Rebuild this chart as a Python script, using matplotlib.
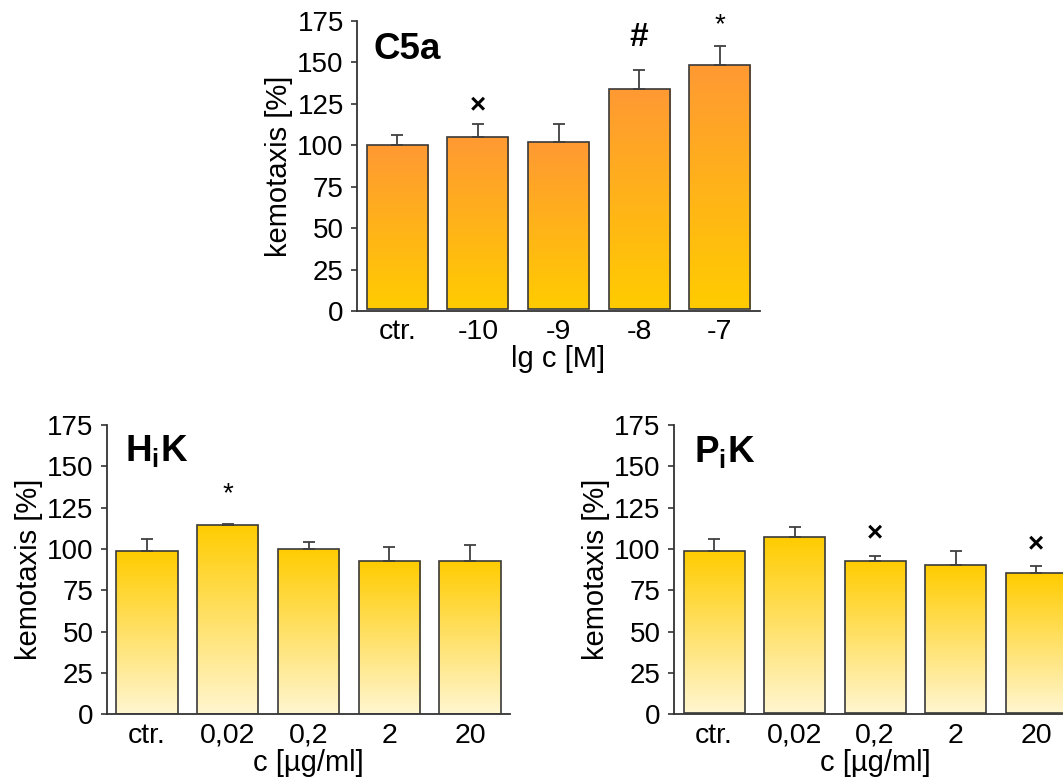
import numpy as np
import matplotlib
matplotlib.use("Agg")
import matplotlib.pyplot as plt
from matplotlib.colors import LinearSegmentedColormap

plt.rcParams['font.family'] = ['Liberation Sans', 'DejaVu Sans']
plt.rcParams['mathtext.fontset'] = 'custom'
plt.rcParams['mathtext.rm'] = 'Liberation Sans'
plt.rcParams['mathtext.bf'] = 'Liberation Sans:bold'

# ---------------- data ----------------
c5a_labels = ['ctr.', '-10', '-9', '-8', '-7']
c5a_mean = [100, 105, 102, 134, 148]
c5a_err = [6, 8, 11, 11, 12]
c5a_marks = ['', '×', '', '#', '*']
c5a_mark_y = [None, 124, None, 165, 172]

conc_labels = ['ctr.', '0,02', '0,2', '2', '20']

hik_mean = [98.5, 114.5, 100, 92.5, 93]
hik_err = [7.5, 0.8, 4.5, 9, 9.5]
hik_marks = ['', '*', '', '', '']
hik_mark_y = [None, 133, None, None, None]

pik_mean = [99, 107, 93, 90.5, 85.5]
pik_err = [7, 6, 2.5, 8, 4]
pik_marks = ['', '', '×', '', '×']
pik_mark_y = [None, None, 109.5, None, 102.8]

W, H = 1063, 778
fig = plt.figure(figsize=(W / 100, H / 100), dpi=100)

orange_cmap = LinearSegmentedColormap.from_list('og', ['#FFCC00', '#FF9933'])
yellow_cmap = LinearSegmentedColormap.from_list('yl', ['#FFF6D0', '#FFCC00'])

mark_style = {'*': dict(fontsize=20, fontweight='normal'),
              '#': dict(fontsize=24, fontweight='bold'),
              '×': dict(fontsize=20, fontweight='bold')}


def panel(rect_px, labels, mean, err, marks, mark_y, xlabel, cmap, base):
    l, r, t, b = rect_px
    ax = fig.add_axes([l / W, 1 - b / H, (r - l) / W, (b - t) / H])
    x = np.arange(len(labels))
    heights = [m - base for m in mean]
    bars = ax.bar(x, heights, bottom=base, width=0.757, facecolor='none',
                  edgecolor='#3a3a3a', linewidth=1.2, zorder=3)
    grad = np.linspace(0, 1, 256).reshape(-1, 1)
    for p in bars.patches:
        x0, y0 = p.get_x(), p.get_y()
        im = ax.imshow(grad, cmap=cmap, origin='lower', aspect='auto',
                       extent=[x0, x0 + p.get_width(), y0, y0 + p.get_height()],
                       zorder=2, interpolation='bilinear')
        im.set_clip_path(p)
    lower = np.zeros(len(mean))
    ax.errorbar(x, mean, yerr=[lower, err], fmt='none', ecolor='#404040',
                elinewidth=1.3, capsize=4, capthick=1.3, zorder=4)
    for xi, mk, my in zip(x, marks, mark_y):
        if mk:
            ax.text(xi, my, mk, ha='center', va='center', color='black',
                    **mark_style[mk])
    ax.set_xlim(-0.5, len(labels) - 0.5)
    ax.set_ylim(0, 175)
    ax.set_yticks(np.arange(0, 176, 25))
    ax.set_xticks(x)
    ax.set_xticklabels(labels)
    ax.tick_params(axis='x', length=0, labelsize=20.5, pad=6)
    ax.tick_params(axis='y', length=4.5, width=1.2, labelsize=20, pad=5,
                   direction='out', color='#333333')
    for s in ['top', 'right']:
        ax.spines[s].set_visible(False)
    for s in ['left', 'bottom']:
        ax.spines[s].set_linewidth(1.3)
        ax.spines[s].set_color('#333333')
    ax.set_ylabel('kemotaxis [%]', fontsize=21, labelpad=3)
    ax.set_xlabel(xlabel, fontsize=21, labelpad=0)
    ax.set_facecolor('none')
    return ax


ax1 = panel((357, 760, 20.7, 311), c5a_labels, c5a_mean, c5a_err, c5a_marks,
            c5a_mark_y, 'lg c [M]', orange_cmap, 1.5)
ax1.text(0.040, 0.868, 'C5a', transform=ax1.transAxes, ha='left', va='baseline',
         fontsize=26.5, fontweight='bold')

ax2 = panel((106.6, 510.4, 425, 714.3), conc_labels, hik_mean, hik_err, hik_marks,
            hik_mark_y, 'c [µg/ml]', yellow_cmap, 0)
ax2.text(0.0456, 0.877, r'$\mathbf{H_{i}K}$', transform=ax2.transAxes, ha='left',
         va='baseline', fontsize=26.5)

ax3 = panel((673.75, 1076.5, 425, 714.3), conc_labels, pik_mean, pik_err, pik_marks,
            pik_mark_y, 'c [µg/ml]', yellow_cmap, 1)
ax3.text(0.050, 0.873, r'$\mathbf{P_{i}K}$', transform=ax3.transAxes, ha='left',
         va='baseline', fontsize=26.5)

fig.savefig('out.png', dpi=100)
